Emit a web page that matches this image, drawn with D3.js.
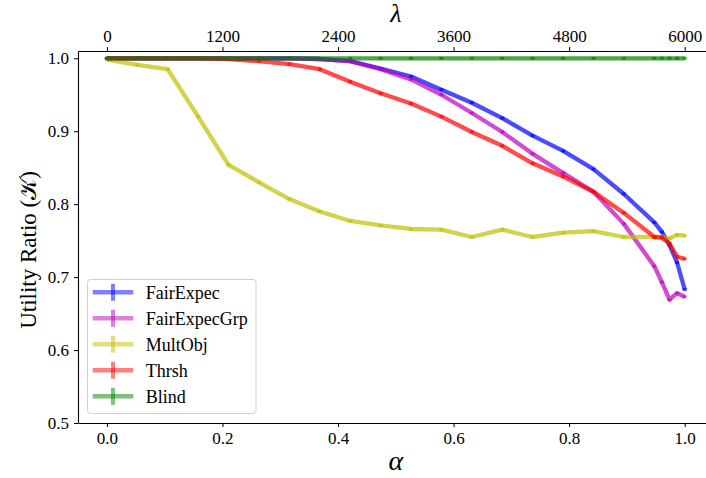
<!DOCTYPE html>
<html>
<head>
<meta charset="utf-8">
<script src="https://cdn.jsdelivr.net/npm/d3@7"></script>
<style>
  html, body { margin: 0; padding: 0; background: #fff; }
  svg { display: block; }
  text { font-family: "Liberation Serif", "DejaVu Serif", serif; fill: #000; }
</style>
</head>
<body>
<svg id="chart" width="706" height="478"></svg>
<script>
// ---- data ----
const alphas = [0, 0.0526, 0.1053, 0.1579, 0.2105, 0.2632, 0.3158, 0.3684, 0.4211, 0.4737,
                0.5263, 0.5789, 0.6316, 0.6842, 0.7368, 0.7895, 0.8421, 0.8947, 0.9474,
                0.9605, 0.9737, 0.9868, 1.0];
const fairExpec = [1.0, 1.0, 1.0, 1.0, 1.0, 1.0, 1.0, 0.999, 0.996, 0.986,
                   0.975, 0.957, 0.939, 0.918, 0.894, 0.873, 0.848, 0.814, 0.775,
                   0.762, 0.744, 0.720, 0.683];
const fairExpecGrp = [1.0, 1.0, 1.0, 1.0, 1.0, 1.0, 1.0, 0.999, 0.996, 0.985,
                      0.971, 0.950, 0.925, 0.899, 0.869, 0.843, 0.817, 0.773, 0.715,
                      0.693, 0.669, 0.678, 0.673];
const multObj = [0.998, 0.991, 0.985, 0.920, 0.854, 0.830, 0.807, 0.790, 0.777, 0.771,
                 0.766, 0.765, 0.755, 0.765, 0.755, 0.761, 0.763, 0.755, 0.755,
                 0.755, 0.753, 0.758, 0.757];
const thrsh = [1.0, 1.0, 1.0, 1.0, 0.999, 0.996, 0.992, 0.985, 0.968, 0.952,
               0.938, 0.920, 0.899, 0.880, 0.856, 0.838, 0.817, 0.788, 0.755,
               0.754, 0.746, 0.728, 0.725];
const blind = [1.0, 1.0, 1.0, 1.0, 1.0, 1.0, 1.0, 1.0, 1.0, 1.0,
               1.0, 1.0, 1.0, 1.0, 1.0, 1.0, 1.0, 1.0, 1.0,
               1.0, 1.0, 1.0, 1.0];
const errHalf = 0.002;

const seriesNames = ["FairExpec", "FairExpecGrp", "MultObj", "Thrsh", "Blind"];
const seriesValues = [fairExpec, fairExpecGrp, multObj, thrsh, blind];
const seriesColors = ["#0000ff", "#bf00bf", "#bfbf00", "#ff0000", "#008000"];

const xTicks = [0.0, 0.2, 0.4, 0.6, 0.8, 1.0];
const lambdaTicks = [0, 1200, 2400, 3600, 4800, 6000];
const yTicks = [0.5, 0.6, 0.7, 0.8, 0.9, 1.0];
const lambdaMax = 6000;

// ---- layout ----
const svg = d3.select("#chart");
const L = 78, R = 713.6, T = 51, B = 423;
const x = d3.scaleLinear().domain([-0.05, 1.05]).range([L, R]);
const xTop = d3.scaleLinear().domain([-0.05 * lambdaMax, 1.05 * lambdaMax]).range([L, R]);
const y = d3.scaleLinear().domain([0.5, 1.01]).range([B, T]);

svg.append("defs").append("clipPath").attr("id", "clip")
  .append("rect").attr("x", L).attr("y", T).attr("width", R - L).attr("height", B - T);

const plot = svg.append("g").attr("clip-path", "url(#clip)");

const line = d3.line().x((d, i) => x(alphas[i])).y(d => y(d));

seriesValues.forEach((vals, si) => {
  const g = plot.append("g");
  g.append("path").datum(vals)
    .attr("d", line)
    .attr("fill", "none")
    .attr("stroke", seriesColors[si])
    .attr("stroke-width", 4.3)
    .attr("stroke-opacity", 0.7)
    .attr("stroke-linejoin", "round");
  g.selectAll("line.err").data(vals).enter().append("line")
    .attr("x1", (d, i) => x(alphas[i])).attr("x2", (d, i) => x(alphas[i]))
    .attr("y1", d => y(d + errHalf)).attr("y2", d => y(d - errHalf))
    .attr("stroke", seriesColors[si])
    .attr("stroke-width", 4)
    .attr("stroke-opacity", 0.7);
});

// ---- axes ----
const fs = 17;
const bottomAxis = d3.axisBottom(x).tickValues(xTicks).tickFormat(d3.format(".1f")).tickSizeInner(4).tickSizeOuter(0).tickPadding(5);
const gB = svg.append("g").attr("transform", `translate(0,${B})`).call(bottomAxis);
const topAxis = d3.axisTop(xTop).tickValues(lambdaTicks).tickFormat(d3.format("d")).tickSizeInner(4).tickSizeOuter(0).tickPadding(5);
const gT = svg.append("g").attr("transform", `translate(0,${T})`).call(topAxis);
const leftAxis = d3.axisLeft(y).tickValues(yTicks).tickFormat(d3.format(".1f")).tickSizeInner(4).tickSizeOuter(0).tickPadding(5);
const gL = svg.append("g").attr("transform", `translate(${L},0)`).call(leftAxis);
const rightAxis = d3.axisRight(y).tickValues([]).tickSizeOuter(0);
svg.append("g").attr("transform", `translate(${R},0)`).call(rightAxis);

[gB, gT, gL].forEach(g => {
  g.selectAll("text").attr("font-size", fs).attr("font-family", "Liberation Serif");
  g.selectAll("path, line").attr("stroke", "#000").attr("stroke-width", 1);
});
svg.selectAll(".domain").attr("stroke", "#000").attr("stroke-width", 1.1);

// axis labels
svg.append("text").attr("x", x(0.5)).attr("y", 470)
  .attr("text-anchor", "middle").attr("font-size", 28).attr("font-style", "italic")
  .text("α");
svg.append("text").attr("x", x(0.5)).attr("y", 22)
  .attr("text-anchor", "middle").attr("font-size", 26).attr("font-style", "italic")
  .text("λ");
svg.append("text")
  .attr("transform", `translate(36,250) rotate(-90)`)
  .attr("text-anchor", "middle").attr("font-size", 23)
  .text("Utility Ratio (𝒦)");

// ---- legend ----
const lg = svg.append("g");
lg.append("rect").attr("x", 87.5).attr("y", 279.5).attr("width", 168.5).attr("height", 134)
  .attr("rx", 3).attr("fill", "#fff").attr("fill-opacity", 0.8)
  .attr("stroke", "#d0d0d0").attr("stroke-width", 1);
seriesNames.forEach((name, i) => {
  const cy = 292.3 + i * 26;
  lg.append("line").attr("x1", 92.7).attr("x2", 133.3).attr("y1", cy).attr("y2", cy)
    .attr("stroke", seriesColors[i]).attr("stroke-width", 4.5).attr("stroke-opacity", 0.5);
  lg.append("line").attr("x1", 113).attr("x2", 113).attr("y1", cy - 8.5).attr("y2", cy + 8.5)
    .attr("stroke", seriesColors[i]).attr("stroke-width", 4).attr("stroke-opacity", 0.5);
  lg.append("text").attr("x", 145.7).attr("y", cy).attr("dy", "0.35em")
    .attr("font-size", 18).text(name);
});
</script>
</body>
</html>
